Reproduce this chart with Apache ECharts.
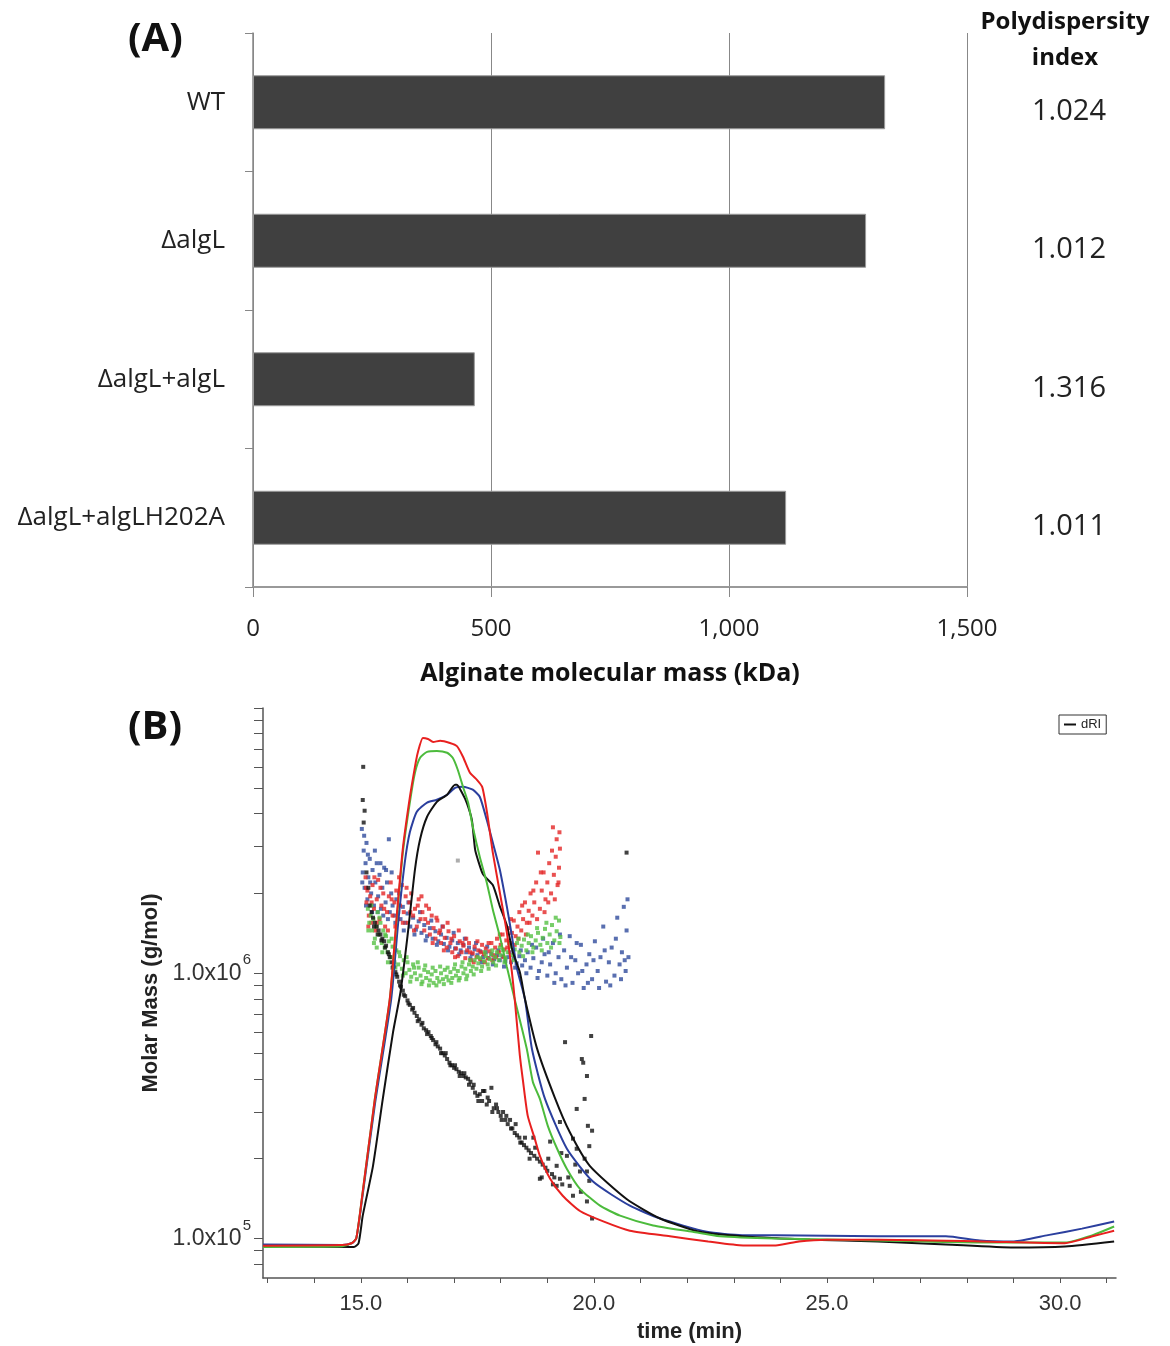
<!DOCTYPE html>
<html>
<head>
<meta charset="utf-8">
<script src="https://cdn.jsdelivr.net/npm/echarts@6/dist/echarts.min.js"></script>
<style>
  html, body { margin: 0; padding: 0; background: #fff; }
  #main { width: 1170px; height: 1346px; }
</style>
</head>
<body>
<div id="main"></div>
<script>
// (A) molecular mass per strain
var strains = ['WT', 'ΔalgL', 'ΔalgL+algL', 'ΔalgL+algLH202A'];
var molMass = [1328, 1288, 466, 1120];
var pdi = ['1.024', '1.012', '1.316', '1.011'];

// (B) axis ticks
var timeTicks = [13, 14, 15, 16, 17, 18, 19, 20, 21, 22, 23, 24, 25, 26, 27, 28, 29, 30, 31];
var timeLabels = [15, 20, 25, 30];
var molarTicks = [8e4, 9e4, 1e5, 2e5, 3e5, 4e5, 5e5, 6e5, 7e5, 8e5, 9e5,
    1e6, 2e6, 3e6, 4e6, 5e6, 6e6, 7e6, 8e6, 9e6, 1e7];
var molarLabels = [1e5, 1e6];

// dRI traces [time, value]
var riRed = [[12.9,9.4e4],[14.6,9.45e4],[14.8,9.6e4],[14.9,1.0e5],[15.02,1.41e5],[15.3,3.36e5],[15.62,8.0e5],[15.77,1.65e6],[15.9,2.95e6],[16.05,4.6e6],[16.16,6.0e6],[16.22,6.78e6],[16.33,7.71e6],[16.44,7.64e6],[16.55,7.45e6],[16.7,7.52e6],[16.91,7.38e6],[17.06,7.18e6],[17.19,6.55e6],[17.34,5.7e6],[17.49,5.36e6],[17.6,5.05e6],[17.66,4.51e6],[17.73,3.79e6],[17.83,2.85e6],[17.98,2.02e6],[18.13,1.43e6],[18.24,1.01e6],[18.3,8.0e5],[18.41,4.9e5],[18.48,3.9e5],[18.58,2.9e5],[18.73,2.38e5],[18.84,2.05e5],[19.06,1.68e5],[19.33,1.45e5],[19.7,1.27e5],[20.2,1.16e5],[20.77,1.07e5],[21.63,1.02e5],[22.45,9.75e4],[23.2,9.42e4],[23.9,9.42e4],[24.4,9.75e4],[25.0,9.9e4],[26.1,9.9e4],[28.3,9.75e4],[30.1,9.6e4],[30.7,1.02e5],[31.16,1.07e5]];
var riGreen = [[12.9,9.3e4],[14.6,9.35e4],[14.8,9.6e4],[14.9,1.0e5],[15.02,1.41e5],[15.3,3.36e5],[15.62,7.98e5],[15.77,1.6e6],[15.9,2.85e6],[16.05,4.4e6],[16.16,5.7e6],[16.27,6.49e6],[16.42,6.83e6],[16.63,6.89e6],[16.85,6.78e6],[16.97,6.49e6],[17.08,5.84e6],[17.19,5.05e6],[17.3,4.4e6],[17.4,3.57e6],[17.55,2.75e6],[17.7,2.2e6],[17.83,1.74e6],[17.98,1.38e6],[18.13,1.06e6],[18.3,7.98e5],[18.56,5.18e5],[18.69,3.89e5],[18.84,3.36e5],[19.01,2.66e5],[19.21,2.18e5],[19.42,1.83e5],[19.7,1.54e5],[20.13,1.33e5],[20.56,1.22e5],[21.27,1.12e5],[22.12,1.06e5],[22.7,1.02e5],[23.9,1.0e5],[26.1,9.83e4],[28.3,9.66e4],[30.1,9.66e4],[30.7,1.03e5],[31.16,1.11e5]];
var riBlue = [[12.9,9.5e4],[14.6,9.45e4],[14.8,9.6e4],[14.9,1.0e5],[15.02,1.38e5],[15.3,3.2e5],[15.65,7.98e5],[15.8,1.55e6],[15.94,2.6e6],[16.05,3.4e6],[16.2,4.06e6],[16.42,4.4e6],[16.63,4.51e6],[16.85,4.71e6],[17.02,5.0e6],[17.19,5.05e6],[17.4,4.92e6],[17.55,4.63e6],[17.7,3.79e6],[17.83,3.11e6],[17.98,2.46e6],[18.13,1.79e6],[18.24,1.38e6],[18.35,1.04e6],[18.52,7.98e5],[18.67,5.18e5],[18.95,3.36e5],[19.42,2.18e5],[19.98,1.64e5],[20.77,1.33e5],[21.42,1.19e5],[22.42,1.06e5],[23.18,1.03e5],[23.91,1.03e5],[26.09,1.02e5],[27.55,1.02e5],[28.28,9.83e4],[29.01,9.75e4],[29.74,1.03e5],[30.47,1.09e5],[31.16,1.16e5]];
var riBlack = [[12.9,9.35e4],[14.85,9.3e4],[14.95,9.6e4],[15.04,1.22e5],[15.26,1.88e5],[15.47,3.36e5],[15.69,6.0e5],[15.85,8.5e5],[16.0,1.38e6],[16.16,2.46e6],[16.27,3.2e6],[16.42,3.89e6],[16.63,4.43e6],[16.85,4.71e6],[17.02,5.14e6],[17.06,5.14e6],[17.17,4.79e6],[17.27,4.4e6],[17.38,3.79e6],[17.45,2.93e6],[17.51,2.68e6],[17.62,2.36e6],[17.83,2.15e6],[17.98,1.79e6],[18.13,1.52e6],[18.26,1.2e6],[18.41,1.01e6],[18.52,8.0e5],[18.78,5.2e5],[19.16,3.4e5],[19.48,2.52e5],[19.91,1.88e5],[20.7,1.41e5],[21.42,1.19e5],[22.27,1.06e5],[23.18,1.02e5],[24.64,9.9e4],[26.09,9.75e4],[27.55,9.5e4],[29.01,9.25e4],[30.11,9.34e4],[31.16,9.75e4]];

// molar mass points [time, g/mol]
var mmRed = [[15.10,2.30e6],[15.12,1.85e6],[15.14,2.05e6],[15.17,1.65e6],[15.20,1.95e6],[15.22,1.55e6],[15.25,2.15e6],[15.28,1.75e6],[15.31,1.45e6],[15.34,1.90e6],[15.37,2.25e6],[15.40,1.60e6],[15.44,1.80e6],[15.48,2.00e6],[15.52,1.50e6],[15.56,1.70e6],[15.60,1.95e6],[15.64,2.20e6],[15.68,1.65e6],[15.72,1.85e6],[15.76,2.05e6],[15.80,1.60e6],[15.84,1.80e6],[15.88,2.15e6],[15.92,1.70e6],[15.96,1.95e6],[16.00,1.55e6],[16.04,1.85e6],[16.08,2.00e6],[16.12,1.65e6],[16.16,1.75e6],[16.20,1.50e6],[16.24,1.90e6],[16.28,1.60e6],[16.32,1.70e6],[16.36,1.45e6],[16.40,1.80e6],[16.44,1.55e6],[16.48,1.40e6],[16.52,1.65e6],[16.56,1.48e6],[16.60,1.35e6],[16.64,1.58e6],[16.68,1.42e6],[16.72,1.30e6],[16.76,1.50e6],[16.80,1.36e6],[16.84,1.25e6],[16.88,1.44e6],[16.92,1.30e6],[16.96,1.20e6],[17.00,1.38e6],[17.04,1.24e6],[17.08,1.16e6],[17.12,1.32e6],[17.16,1.20e6],[17.20,1.27e6],[17.24,1.14e6],[17.28,1.22e6],[17.32,1.30e6],[17.36,1.12e6],[17.40,1.19e6],[17.44,1.26e6],[17.48,1.15e6],[17.52,1.22e6],[17.56,1.13e6],[17.60,1.28e6],[17.64,1.18e6],[17.68,1.24e6],[17.72,1.14e6],[17.76,1.21e6],[17.80,1.30e6],[17.84,1.17e6],[17.88,1.25e6],[17.92,1.35e6],[17.96,1.20e6],[18.00,1.28e6],[18.04,1.40e6],[18.08,1.23e6],[18.12,1.33e6],[18.16,1.48e6],[18.20,1.30e6],[18.24,1.42e6],[18.28,1.58e6],[18.32,1.38e6],[18.36,1.50e6],[18.40,1.70e6],[18.44,1.45e6],[18.48,1.60e6],[18.52,1.85e6],[18.56,1.55e6],[18.60,1.72e6],[18.64,2.00e6],[18.68,1.65e6],[18.72,1.85e6],[18.76,2.20e6],[18.80,2.85e6],[18.84,1.75e6],[18.88,2.05e6],[18.92,2.40e6],[18.96,1.90e6],[19.00,2.20e6],[19.04,2.60e6],[19.08,2.00e6],[19.12,3.55e6],[19.14,2.35e6],[19.18,2.75e6],[19.20,3.20e6],[19.22,2.15e6],[19.25,2.50e6],[19.27,2.95e6],
    [15.11,2.1e6],[15.16,1.5e6],[15.23,1.85e6],[15.29,2.3e6],[15.35,1.55e6],[15.42,2.1e6],[15.5,1.75e6],[15.58,1.45e6],[15.66,1.9e6],[15.74,1.5e6],[15.82,2.3e6],[15.9,1.55e6],[15.98,2.1e6],[16.06,1.7e6],[16.14,1.45e6],[16.22,1.8e6],[16.3,1.95e6],[16.38,1.6e6],[16.46,1.75e6],[16.54,1.3e6],[16.62,1.62e6],[16.7,1.45e6],[16.78,1.22e6],[16.86,1.55e6],[16.94,1.35e6],[17.02,1.15e6],[17.1,1.45e6],[17.18,1.3e6],[17.26,1.35e6],[17.34,1.2e6],[17.42,1.1e6],[17.5,1.32e6],[17.58,1.2e6],[17.66,1.1e6],[17.74,1.3e6],[17.82,1.12e6],[17.9,1.15e6],[17.98,1.4e6],[18.06,1.15e6],[18.14,1.25e6],[18.22,1.6e6],[18.3,1.28e6],[18.38,1.35e6],[18.46,1.8e6],[18.54,1.4e6],[18.62,1.55e6],[18.7,2.05e6],[18.78,1.6e6],[18.86,2.4e6],[18.94,1.7e6],[19.02,1.85e6],[19.1,2.9e6],[19.16,1.9e6],[19.24,2.2e6],[19.26,3.4e6]];
var mmGreen = [[15.15,1.75e6],[15.18,1.55e6],[15.21,1.65e6],[15.24,1.45e6],[15.27,1.60e6],[15.30,1.35e6],[15.33,1.50e6],[15.36,1.70e6],[15.39,1.40e6],[15.42,1.55e6],[15.45,1.30e6],[15.48,1.45e6],[15.51,1.25e6],[15.54,1.38e6],[15.57,1.20e6],[15.60,1.32e6],[15.64,1.15e6],[15.68,1.26e6],[15.72,1.10e6],[15.76,1.22e6],[15.80,1.08e6],[15.84,1.16e6],[15.88,1.04e6],[15.92,1.12e6],[15.96,1.00e6],[16.00,1.10e6],[16.04,1.03e6],[16.08,0.97e6],[16.12,1.08e6],[16.16,1.00e6],[16.20,0.95e6],[16.24,1.05e6],[16.28,0.98e6],[16.32,0.93e6],[16.36,1.03e6],[16.40,0.96e6],[16.44,1.01e6],[16.48,0.94e6],[16.52,0.99e6],[16.56,0.92e6],[16.60,1.02e6],[16.64,0.96e6],[16.68,0.93e6],[16.72,1.00e6],[16.76,0.95e6],[16.80,1.03e6],[16.84,0.97e6],[16.88,0.94e6],[16.92,1.01e6],[16.96,0.96e6],[17.00,1.04e6],[17.04,0.98e6],[17.08,1.02e6],[17.12,0.96e6],[17.16,1.06e6],[17.20,1.00e6],[17.24,1.04e6],[17.28,0.98e6],[17.32,1.08e6],[17.36,1.02e6],[17.40,1.06e6],[17.44,1.12e6],[17.48,1.04e6],[17.52,1.09e6],[17.56,1.14e6],[17.60,1.06e6],[17.64,1.11e6],[17.68,1.16e6],[17.72,1.08e6],[17.76,1.13e6],[17.80,1.18e6],[17.84,1.10e6],[17.88,1.15e6],[17.92,1.20e6],[17.96,1.12e6],[18.00,1.17e6],[18.05,1.22e6],[18.10,1.14e6],[18.15,1.20e6],[18.20,1.26e6],[18.25,1.17e6],[18.30,1.23e6],[18.35,1.30e6],[18.40,1.20e6],[18.45,1.27e6],[18.50,1.34e6],[18.55,1.22e6],[18.60,1.30e6],[18.65,1.38e6],[18.70,1.25e6],[18.75,1.33e6],[18.80,1.42e6],[18.85,1.28e6],[18.90,1.36e6],[18.95,1.47e6],[19.00,1.30e6],[19.05,1.40e6],[19.10,1.52e6],[19.15,1.33e6],[19.20,1.44e6],[19.25,1.58e6],[19.28,1.37e6],
    [15.16,1.45e6],[15.22,1.8e6],[15.28,1.3e6],[15.34,1.25e6],[15.4,1.62e6],[15.46,1.2e6],[15.52,1.4e6],[15.58,1.1e6],[15.66,1.35e6],[15.74,1.05e6],[15.82,1.2e6],[15.9,0.98e6],[15.98,1.15e6],[16.06,0.93e6],[16.14,1.05e6],[16.22,1.1e6],[16.3,0.91e6],[16.38,1.07e6],[16.46,0.9e6],[16.54,1.05e6],[16.62,0.9e6],[16.7,1.06e6],[16.78,0.91e6],[16.86,1.05e6],[16.94,0.92e6],[17.02,1.08e6],[17.1,0.94e6],[17.18,1.1e6],[17.26,0.95e6],[17.34,1.12e6],[17.42,0.99e6],[17.5,1.15e6],[17.58,1.02e6],[17.66,1.2e6],[17.74,1.04e6],[17.82,1.22e6],[17.9,1.07e6],[17.98,1.25e6],[18.08,1.1e6],[18.18,1.3e6],[18.28,1.12e6],[18.38,1.35e6],[18.48,1.16e6],[18.58,1.4e6],[18.68,1.2e6],[18.78,1.48e6],[18.88,1.22e6],[18.98,1.55e6],[19.08,1.25e6],[19.18,1.62e6],[19.26,1.3e6]];
var mmBlue = [[15.02,3.50e6],[15.04,2.40e6],[15.06,2.90e6],[15.08,2.10e6],[15.10,2.60e6],[15.12,3.10e6],[15.14,1.90e6],[15.16,2.30e6],[15.19,2.70e6],[15.22,2.00e6],[15.25,2.45e6],[15.28,1.80e6],[15.31,2.20e6],[15.34,2.60e6],[15.37,1.95e6],[15.40,2.35e6],[15.43,1.75e6],[15.46,2.10e6],[15.50,2.50e6],[15.53,1.85e6],[15.56,2.20e6],[15.60,3.20e6],[15.62,1.70e6],[15.65,2.00e6],[15.68,1.80e6],[15.72,1.65e6],[15.76,1.90e6],[15.80,1.70e6],[15.85,1.60e6],[15.90,1.78e6],[15.95,1.55e6],[16.00,1.68e6],[16.06,1.50e6],[16.12,1.62e6],[16.18,1.46e6],[16.24,1.57e6],[16.30,1.42e6],[16.36,1.52e6],[16.42,1.38e6],[16.48,1.48e6],[16.54,1.35e6],[16.60,1.44e6],[16.66,1.32e6],[16.72,1.40e6],[16.78,1.29e6],[16.84,1.36e6],[16.90,1.26e6],[16.96,1.33e6],[17.02,1.24e6],[17.08,1.30e6],[17.14,1.22e6],[17.20,1.28e6],[17.26,1.20e6],[17.32,1.25e6],[17.38,1.18e6],[17.44,1.23e6],[17.50,1.17e6],[17.56,1.21e6],[17.62,1.15e6],[17.68,1.20e6],[17.74,1.14e6],[17.80,1.18e6],[17.86,1.13e6],[17.92,1.17e6],[17.98,1.12e6],[18.04,1.16e6],[18.10,1.11e6],[18.16,1.15e6],[18.22,1.10e6],[18.28,1.14e6],[18.34,1.09e6],[18.40,1.16e6],[18.46,1.07e6],[18.52,1.12e6],[18.58,1.20e6],[18.64,1.05e6],[18.70,1.14e6],[18.76,1.25e6],[18.82,1.02e6],[18.88,1.10e6],[18.94,1.18e6],[19.00,0.98e6],[19.06,1.08e6],[19.12,1.30e6],[19.18,1.00e6],[19.24,1.15e6],[19.30,0.95e6],[19.36,1.22e6],[19.42,1.05e6],[19.48,1.38e6],[19.54,0.92e6],[19.60,1.12e6],[19.66,1.00e6],[19.72,1.28e6],[19.78,0.88e6],[19.84,1.08e6],[19.90,1.18e6],[19.96,0.95e6],[20.02,1.32e6],[20.08,1.02e6],[20.14,1.15e6],[20.20,1.50e6],[20.26,0.93e6],[20.32,1.10e6],[20.38,1.25e6],[20.44,0.98e6],[20.50,1.62e6],[20.55,1.08e6],[20.60,1.20e6],[20.64,1.78e6],[20.68,1.02e6],[20.72,1.90e6],[20.74,1.15e6],
    [15.03,2.2e6],[15.07,3.3e6],[15.11,1.8e6],[15.15,2.8e6],[15.2,2.2e6],[15.24,1.7e6],[15.3,2.9e6],[15.36,1.7e6],[15.42,2.6e6],[15.48,1.65e6],[15.54,2.45e6],[15.58,1.6e6],[15.66,2.4e6],[15.74,1.55e6],[15.82,2.0e6],[15.92,1.45e6],[16.02,1.85e6],[16.15,1.4e6],[16.27,1.7e6],[16.39,1.33e6],[16.51,1.58e6],[16.63,1.28e6],[16.75,1.5e6],[16.87,1.22e6],[16.99,1.42e6],[17.11,1.18e6],[17.23,1.35e6],[17.35,1.14e6],[17.47,1.3e6],[17.59,1.1e6],[17.71,1.26e6],[17.83,1.08e6],[17.95,1.22e6],[18.07,1.06e6],[18.19,1.2e6],[18.31,1.05e6],[18.43,1.22e6],[18.55,1.0e6],[18.67,1.28e6],[18.79,0.96e6],[18.91,1.35e6],[19.03,1.2e6],[19.15,0.92e6],[19.27,1.4e6],[19.39,0.9e6],[19.51,1.15e6],[19.63,1.3e6],[19.75,1.02e6],[19.87,0.92e6],[19.99,1.12e6],[20.11,0.88e6],[20.23,1.22e6],[20.35,0.9e6],[20.47,1.35e6],[20.58,0.95e6],[20.66,1.12e6],[20.7,1.45e6]];
var mmBlack = [[15.05,6.0e6],[15.04,4.5e6],[15.08,4.1e6],[15.06,3.7e6],[15.12,2.4e6],[15.16,2.1e6],[15.19,1.80e6],[15.23,1.70e6],[15.26,1.62e6],[15.30,1.55e6],[15.34,1.50e6],[15.38,1.45e6],[15.42,1.40e6],[15.46,1.35e6],[15.50,1.32e6],[15.54,1.27e6],[15.58,1.20e6],[15.62,1.15e6],[15.66,1.10e6],[15.70,1.06e6],[15.74,1.01e6],[15.78,0.97e6],[15.82,0.93e6],[15.86,0.89e6],[15.90,0.86e6],[15.95,0.82e6],[16.00,0.79e6],[16.05,0.76e6],[16.10,0.73e6],[16.15,0.71e6],[16.20,0.69e6],[16.25,0.67e6],[16.30,0.64e6],[16.35,0.62e6],[16.40,0.61e6],[16.45,0.60e6],[16.50,0.58e6],[16.55,0.56e6],[16.60,0.54e6],[16.65,0.53e6],[16.70,0.52e6],[16.75,0.50e6],[16.80,0.49e6],[16.85,0.475e6],[16.90,0.46e6],[16.95,0.45e6],[17.00,0.44e6],[17.05,0.435e6],[17.10,0.425e6],[17.15,0.42e6],[17.20,0.41e6],[17.25,0.405e6],[17.30,0.40e6],[17.35,0.39e6],[17.40,0.37e6],[17.45,0.355e6],[17.50,0.345e6],[17.55,0.35e6],[17.60,0.33e6],[17.65,0.36e6],[17.70,0.32e6],[17.75,0.33e6],[17.80,0.37e6],[17.85,0.31e6],[17.90,0.32e6],[17.95,0.30e6],[18.00,0.29e6],[18.05,0.30e6],[18.10,0.28e6],[18.15,0.27e6],[18.20,0.28e6],[18.25,0.26e6],[18.30,0.25e6],[18.35,0.245e6],[18.40,0.24e6],[18.45,0.23e6],[18.50,0.225e6],[18.55,0.22e6],[18.60,0.215e6],[18.65,0.21e6],[18.70,0.24e6],[18.72,0.205e6],[18.78,0.20e6],[18.84,0.195e6],[18.84,0.168e6],[18.90,0.19e6],[18.96,0.185e6],[19.00,0.18e6],[19.06,0.232e6],[19.10,0.175e6],[19.15,0.17e6],[19.20,0.188e6],[19.20,0.158e6],[19.27,0.168e6],[19.27,0.275e6],[19.32,0.16e6],[19.38,0.55e6],[19.42,0.205e6],[19.48,0.158e6],[19.55,0.145e6],[19.55,0.238e6],[19.63,0.218e6],[19.63,0.308e6],[19.70,0.179e6],[19.74,0.475e6],[19.77,0.46e6],[19.80,0.336e6],[19.85,0.41e6],[19.85,0.179e6],[19.85,0.138e6],[19.87,0.266e6],[19.90,0.223e6],[19.94,0.58e6],[19.96,0.255e6],[19.96,0.119e6],[20.70,2.85e6],
    [15.28,1.5e6],[15.36,1.4e6],[15.44,1.33e6],[15.52,1.25e6],[15.6,1.18e6],[15.68,1.05e6],[15.76,0.99e6],[15.84,0.9e6],[15.92,0.83e6],[16.02,0.77e6],[16.12,0.74e6],[16.22,0.66e6],[16.32,0.65e6],[16.42,0.59e6],[16.52,0.57e6],[16.62,0.55e6],[16.72,0.5e6],[16.82,0.5e6],[16.92,0.45e6],[17.02,0.45e6],[17.12,0.41e6],[17.22,0.42e6],[17.32,0.38e6],[17.42,0.38e6],[17.52,0.33e6],[17.62,0.36e6],[17.72,0.34e6],[17.82,0.3e6],[17.92,0.31e6],[18.02,0.28e6],[18.12,0.29e6],[18.22,0.26e6],[18.32,0.27e6],[18.42,0.23e6],[18.52,0.24e6],[18.62,0.2e6],[18.74,0.22e6],[18.88,0.17e6],[19.02,0.2e6],[19.12,0.16e6],[19.3,0.21e6],[19.45,0.17e6],[19.6,0.19e6],[19.72,0.15e6],[19.8,0.2e6],[19.9,0.165e6]];
var mmStray = [[17.08,2.66e6]];

var fontA = '"Open Sans", sans-serif';
var fontB = '"Liberation Sans", Arial, sans-serif';

var chart = echarts.init(document.getElementById('main'), null, { renderer: 'canvas' });

function dots(name, data, color) {
    return {
        name: name, type: 'scatter', xAxisIndex: 1, yAxisIndex: 2,
        data: data, symbol: 'rect', symbolSize: 4,
        itemStyle: { color: color }, z: 2
    };
}
function trace(name, data, color) {
    return {
        name: name, type: 'line', xAxisIndex: 1, yAxisIndex: 2,
        data: data, showSymbol: false, smooth: 0.2,
        lineStyle: { color: color, width: 2 }, itemStyle: { color: color }, z: 3
    };
}

var option = {
    animation: false,
    backgroundColor: '#fff',
    grid: [
        { left: 253, top: 33, width: 714, height: 554 },
        { left: 263, top: 708, width: 853, height: 570 }
    ],
    xAxis: [{
        gridIndex: 0, type: 'value', min: 0, max: 1500, interval: 500,
        axisLine: { show: true, lineStyle: { color: '#999', width: 2 } },
        axisTick: { show: true, length: 10, lineStyle: { color: '#888' } },
        splitLine: { show: true, lineStyle: { color: '#888', width: 1 } },
        axisLabel: {
            margin: 30, fontSize: 24, color: '#222', fontFamily: fontA,
            formatter: function (v) { return v.toLocaleString('en-US'); }
        },
        name: 'Alginate molecular mass (kDa)', nameLocation: 'middle', nameGap: 74,
        nameTextStyle: { fontSize: 25, fontWeight: 'bold', color: '#111', fontFamily: fontA }
    }, {
        gridIndex: 1, type: 'value', min: 12.9, max: 31.2,
        axisLine: { show: true, lineStyle: { color: '#555', width: 1.5 } },
        axisTick: { show: true, length: 5, customValues: timeTicks, lineStyle: { color: '#555' } },
        splitLine: { show: false },
        axisLabel: {
            customValues: timeLabels, margin: 15, fontSize: 22, color: '#333', fontFamily: fontB,
            formatter: function (v) { return v.toFixed(1); }
        },
        name: 'time (min)', nameLocation: 'middle', nameGap: 43,
        nameTextStyle: { fontSize: 22, fontWeight: 'bold', color: '#222', fontFamily: fontB }
    }],
    yAxis: [{
        gridIndex: 0, type: 'category', data: strains, inverse: true,
        axisLine: { show: true, lineStyle: { color: '#888', width: 1.5 } },
        axisTick: { show: true, length: 8, lineStyle: { color: '#888' } },
        axisLabel: { margin: 28, fontSize: 26, color: '#222', fontFamily: fontA }
    }, {
        gridIndex: 0, type: 'category', data: pdi, inverse: true, position: 'right',
        axisLine: { show: false }, axisTick: { show: false },
        axisLabel: {
            margin: 102, align: 'center', fontSize: 29, color: '#222', fontFamily: fontA,
            formatter: function (v) { return '{n|' + v + '}'; },
            rich: { n: { fontSize: 29, color: '#222', fontFamily: fontA, padding: [18, 0, 0, 0] } }
        }
    }, {
        gridIndex: 1, type: 'log', logBase: 10, min: 71000, max: 1e7,
        axisLine: { show: true, lineStyle: { color: '#555', width: 1.5 } },
        axisTick: { show: true, length: 9, customValues: molarTicks, lineStyle: { color: '#555' } },
        splitLine: { show: false },
        axisLabel: {
            customValues: molarLabels, margin: 12, color: '#333', fontFamily: fontB, fontSize: 23,
            formatter: function (v) {
                return '{b|1.0x10}{s|' + Math.round(Math.log10(v)) + '}';
            },
            rich: {
                b: { fontSize: 23, color: '#333', fontFamily: fontB },
                s: { fontSize: 15, color: '#333', fontFamily: fontB, padding: [0, 0, 26, 1] }
            }
        },
        name: 'Molar Mass (g/mol)', nameLocation: 'middle', nameGap: 98, nameRotate: 90,
        nameTextStyle: { fontSize: 22, fontWeight: 'bold', color: '#222', fontFamily: fontB }
    }],
    legend: {
        data: [{ name: 'dRI', icon: 'rect' }],
        left: 1059, top: 715, selectedMode: false,
        itemWidth: 12, itemHeight: 2, itemGap: 4,
        padding: [3, 5, 3, 5],
        borderColor: '#333', borderWidth: 1, borderRadius: 0,
        textStyle: { fontSize: 13, color: '#222', fontFamily: fontB }
    },
    graphic: [
        { type: 'text', x: 128, y: 20, style: { text: '(A)', font: 'bold 40px "Open Sans"', fill: '#111' } },
        { type: 'text', x: 128, y: 708, style: { text: '(B)', font: 'bold 40px "Open Sans"', fill: '#111' } },
        { type: 'text', x: 1065, y: 4, style: { text: 'Polydispersity\nindex', font: 'bold 24px "Open Sans"', fill: '#111', align: 'center', lineHeight: 36 } }
    ],
    series: [{
        name: 'Molecular mass', type: 'bar', xAxisIndex: 0, yAxisIndex: 0,
        data: molMass, barWidth: 54,
        itemStyle: { color: '#404040', borderColor: '#9a9a9a', borderWidth: 1 }
    },
        dots('MM blue', mmBlue, '#2f4b9c'),
        dots('MM red', mmRed, '#e42626'),
        dots('MM green', mmGreen, '#55c043'),
        dots('MM black', mmBlack, '#111'),
        dots('MM stray', mmStray, '#999'),
        trace('dRI blue', riBlue, '#2b3f9e'),
        trace('dRI', riBlack, '#111'),
        trace('dRI green', riGreen, '#4cbb3c'),
        trace('dRI red', riRed, '#e8201f')
    ]
};

chart.setOption(option);
</script>
</body>
</html>
